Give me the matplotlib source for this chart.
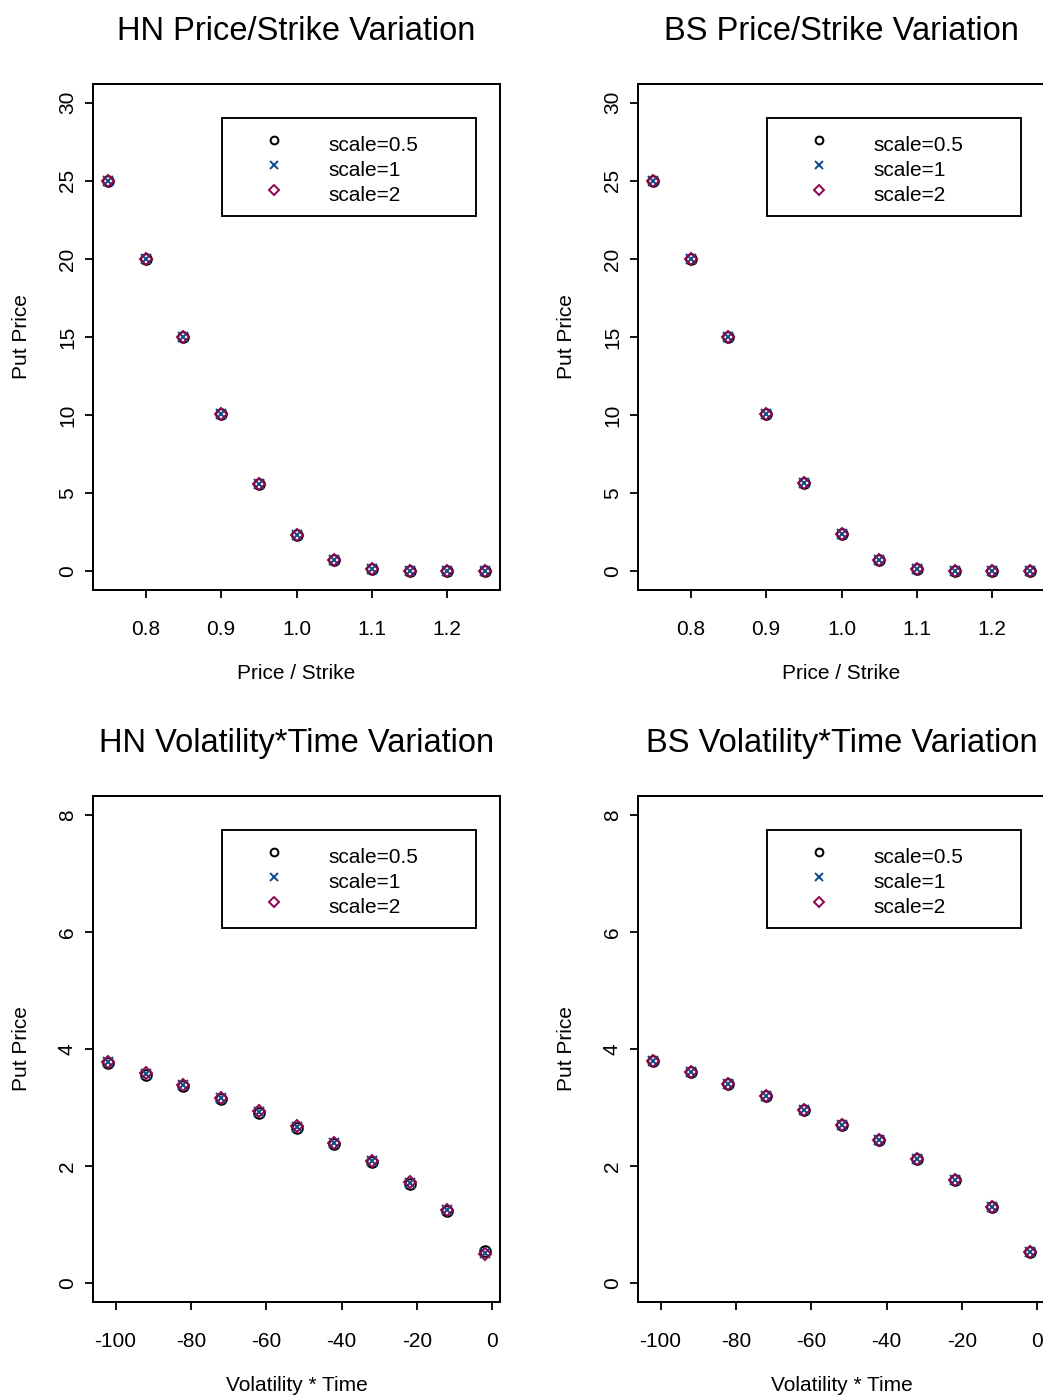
import matplotlib
matplotlib.use("Agg")
import matplotlib.pyplot as plt
from matplotlib.patches import Rectangle

plt.rcParams['font.family'] = ['Liberation Sans', 'DejaVu Sans']

# ---------------- data ----------------
price_strike = [0.75, 0.80, 0.85, 0.90, 0.95, 1.00, 1.05, 1.10, 1.15, 1.20, 1.25]
hn_ps_s05 = [25.0, 20.0, 15.0, 10.09, 5.60, 2.34, 0.72, 0.17, 0.04, 0.01, 0.0]
hn_ps_s1 = [25.0, 20.0, 15.0, 10.09, 5.60, 2.34, 0.72, 0.17, 0.04, 0.01, 0.0]
hn_ps_s2 = [25.0, 20.0, 15.0, 10.09, 5.60, 2.34, 0.72, 0.17, 0.04, 0.01, 0.0]
bs_ps_s05 = [25.0, 20.0, 15.0, 10.09, 5.62, 2.36, 0.73, 0.16, 0.03, 0.0, 0.0]
bs_ps_s1 = [25.0, 20.0, 15.0, 10.09, 5.62, 2.36, 0.73, 0.16, 0.03, 0.0, 0.0]
bs_ps_s2 = [25.0, 20.0, 15.0, 10.09, 5.62, 2.36, 0.73, 0.16, 0.03, 0.0, 0.0]

vol_time = [-102, -92, -82, -72, -62, -52, -42, -32, -22, -12, -2]
hn_vt_s05 = [3.755, 3.56, 3.365, 3.143, 2.912, 2.656, 2.378, 2.065, 1.70, 1.23, 0.55]
hn_vt_s1 = [3.775, 3.58, 3.385, 3.163, 2.932, 2.676, 2.398, 2.085, 1.72, 1.25, 0.515]
hn_vt_s2 = [3.78, 3.585, 3.39, 3.168, 2.937, 2.681, 2.403, 2.09, 1.725, 1.255, 0.505]
bs_vt_s05 = [3.80, 3.61, 3.41, 3.195, 2.966, 2.71, 2.444, 2.13, 1.761, 1.30, 0.532]
bs_vt_s1 = [3.80, 3.61, 3.41, 3.195, 2.966, 2.71, 2.444, 2.13, 1.761, 1.30, 0.532]
bs_vt_s2 = [3.80, 3.61, 3.41, 3.195, 2.966, 2.71, 2.444, 2.13, 1.761, 1.30, 0.532]

legend_labels = ["scale=0.5", "scale=1", "scale=2"]
titles = ["HN Price/Strike Variation", "BS Price/Strike Variation",
          "HN Volatility*Time Variation", "BS Volatility*Time Variation"]
xlabels = ["Price / Strike", "Volatility * Time"]
ylabel = "Put Price"
ps_xticks = [0.8, 0.9, 1.0, 1.1, 1.2]
ps_yticks = [0, 5, 10, 15, 20, 25, 30]
vt_xticks = [-100, -80, -60, -40, -20, 0]
vt_yticks = [0, 2, 4, 6, 8]

# ---------------- style ----------------
W, H = 1043, 1396
DPI = 100
C_CIRC = "#000000"
C_X = "#104E8B"
C_D = "#8B0A50"
FS = 15
FS_T = 23.5
LW = 1.3

fig = plt.figure(figsize=(W / DPI, H / DPI), dpi=DPI)

AX_W, AX_H = 407, 506
lefts = [93, 638]
tops = [84, 796]


def make_ax(left, top):
    return fig.add_axes([left / W, (H - top - AX_H) / H, AX_W / W, AX_H / H])


def r_lim(lo, hi):
    d = (hi - lo) * 0.04
    return lo - d, hi + d


def draw_panel(ax, x, ys, xlim, ylim, xticks, yticks, xfmt, title, xlabel):
    s05, s1, s2 = ys
    ax.plot(x, s05, linestyle='none', marker='o', ms=7.6, mfc='none',
            mec=C_CIRC, mew=LW * 1.1, clip_on=False)
    ax.plot(x, s1, linestyle='none', marker='x', ms=7.4,
            mec=C_X, mew=LW * 1.1, clip_on=False)
    ax.plot(x, s2, linestyle='none', marker='D', ms=6.6, mfc='none',
            mec=C_D, mew=LW * 1.1, clip_on=False)
    ax.set_xlim(*r_lim(*xlim))
    ax.set_ylim(*r_lim(*ylim))
    ax.set_xticks(xticks)
    ax.set_xticklabels([xfmt(v) for v in xticks])
    ax.set_yticks(yticks)
    ax.set_yticklabels([str(v) for v in yticks])
    for sp in ax.spines.values():
        sp.set_linewidth(LW * 1.1)
    ax.tick_params(axis='both', length=5.8, width=LW, labelsize=FS, color='black')
    ax.tick_params(axis='x', pad=16.0)
    ax.tick_params(axis='y', pad=5.8, labelrotation=90)
    for lab in ax.get_yticklabels():
        lab.set_va('center')
    ax.set_title(title, fontsize=FS_T, pad=31.7)
    ax.set_xlabel(xlabel, fontsize=FS)
    ax.xaxis.set_label_coords(0.5, (590 - 664.3) / AX_H)
    ax.set_ylabel(ylabel, fontsize=FS)
    ax.yaxis.set_label_coords((30.9 - 93) / AX_W, 0.5)

    # legend box (R-style)
    def fx(px):
        return (px - 93) / AX_W

    def fy(py):
        return (590 - py) / AX_H

    ax.add_patch(Rectangle((fx(222.3), fy(216)), fx(475.7) - fx(222.3),
                           fy(118.3) - fy(216), transform=ax.transAxes,
                           fill=False, ec='black', lw=LW * 1.05, zorder=5))
    specs = [dict(marker='o', ms=5.6, mfc='none', mec=C_CIRC),
             dict(marker='x', ms=5.6, mec=C_X),
             dict(marker='D', ms=4.8, mfc='none', mec=C_D)]
    rows_m = [140.4, 165.0, 189.6]
    rows_t = [150.7, 175.7, 200.7]
    for spec, rm, rt, lab in zip(specs, rows_m, rows_t, legend_labels):
        ax.plot([fx(274.3)], [fy(rm)], transform=ax.transAxes, linestyle='none',
                mew=LW * 1.1, zorder=6, clip_on=False, **spec)
        ax.text(fx(328.3), fy(rt), lab, transform=ax.transAxes, fontsize=FS,
                va='baseline', ha='left', zorder=6)


ps_fmt = lambda v: f"{v:.1f}"
vt_fmt = lambda v: f"{v:d}"

ax1 = make_ax(lefts[0], tops[0])
draw_panel(ax1, price_strike, (hn_ps_s05, hn_ps_s1, hn_ps_s2), (0.75, 1.25), (0, 30),
           ps_xticks, ps_yticks, ps_fmt, titles[0], xlabels[0])
ax2 = make_ax(lefts[1], tops[0])
draw_panel(ax2, price_strike, (bs_ps_s05, bs_ps_s1, bs_ps_s2), (0.75, 1.25), (0, 30),
           ps_xticks, ps_yticks, ps_fmt, titles[1], xlabels[0])
ax3 = make_ax(lefts[0], tops[1])
draw_panel(ax3, vol_time, (hn_vt_s05, hn_vt_s1, hn_vt_s2), (-102, -2), (0, 8),
           vt_xticks, vt_yticks, vt_fmt, titles[2], xlabels[1])
ax4 = make_ax(lefts[1], tops[1])
draw_panel(ax4, vol_time, (bs_vt_s05, bs_vt_s1, bs_vt_s2), (-102, -2), (0, 8),
           vt_xticks, vt_yticks, vt_fmt, titles[3], xlabels[1])

fig.savefig("out.png", dpi=DPI)
